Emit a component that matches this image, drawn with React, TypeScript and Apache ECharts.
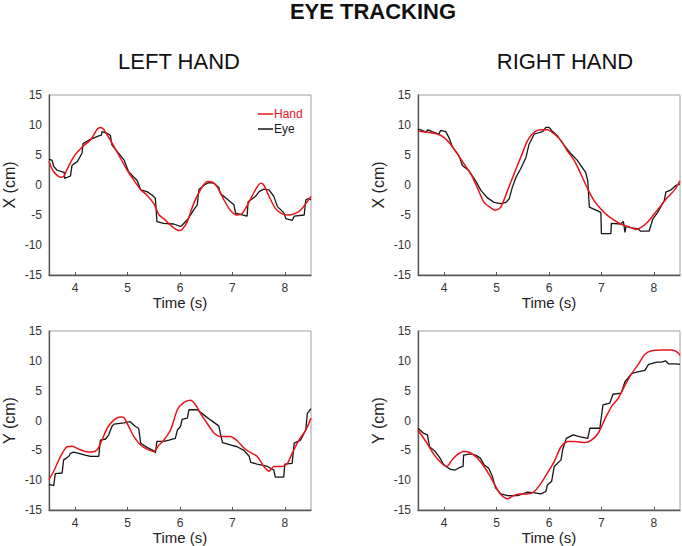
import React, { useEffect, useRef } from "react";
import * as echarts from "echarts";

// ---------- DATA ----------
const X_TICKS = [4, 5, 6, 7, 8];
const X_MIN = 3.5;
const X_MAX = 8.5;
const Y_MIN = -15;
const Y_MAX = 15;
const Y_STEP = 5;

// Left hand, X (cm)
const lxHandT = [3.5, 3.59, 3.72, 3.78, 3.84, 3.97, 4.13, 4.29, 4.42, 4.48, 4.54, 4.67, 4.83, 4.99, 5.12, 5.25, 5.37, 5.5, 5.6, 5.69, 5.82, 5.98, 6.04, 6.14, 6.26, 6.39, 6.52, 6.61, 6.71, 6.84, 6.96, 7.09, 7.19, 7.32, 7.44, 7.54, 7.6, 7.7, 7.82, 7.95, 8.08, 8.21, 8.33, 8.5];
const lxHandV = [3.9, 2.2, 1.3, 1.4, 2.5, 4.7, 6.3, 7.5, 9.3, 9.6, 9.3, 7.5, 5.0, 2.5, 0.8, -0.8, -1.7, -3.1, -5.0, -5.6, -6.7, -7.6, -7.4, -6.1, -3.1, -0.8, 0.6, 0.5, -0.3, -2.5, -4.2, -5.0, -4.7, -2.8, -0.8, 0.3, 0.0, -1.9, -3.9, -4.8, -5.0, -4.7, -3.9, -1.9];
const lxEyeT = [3.5, 3.56, 3.59, 3.65, 3.75, 3.79, 3.8, 3.91, 3.94, 4.04, 4.13, 4.15, 4.29, 4.45, 4.5, 4.51, 4.61, 4.67, 4.7, 4.8, 4.93, 5.02, 5.12, 5.18, 5.25, 5.37, 5.47, 5.53, 5.56, 5.69, 5.88, 6.01, 6.04, 6.14, 6.26, 6.33, 6.36, 6.46, 6.55, 6.65, 6.74, 6.77, 6.96, 7.03, 7.06, 7.28, 7.3, 7.44, 7.51, 7.6, 7.7, 7.79, 7.86, 7.98, 8.02, 8.14, 8.18, 8.37, 8.4, 8.46, 8.5];
const lxEyeV = [4.3, 4.1, 3.1, 2.5, 2.2, 2.1, 1.1, 1.5, 3.3, 3.9, 5.3, 6.9, 7.6, 8.2, 8.3, 8.9, 8.6, 8.3, 6.7, 5.6, 4.2, 2.2, 1.3, 0.8, -0.8, -1.1, -1.7, -2.2, -6.1, -6.4, -6.5, -6.9, -6.7, -5.8, -4.2, -3.3, -0.8, 0.0, 0.4, 0.3, -0.4, -1.4, -2.8, -3.3, -4.7, -5.2, -2.8, -1.9, -1.1, -0.7, -0.8, -1.9, -3.6, -4.6, -5.6, -5.9, -5.2, -5.0, -2.5, -2.2, -2.5];

// Right hand, X (cm)
const rxHandT = [3.5, 3.68, 3.87, 4.0, 4.12, 4.25, 4.38, 4.51, 4.63, 4.76, 4.89, 4.98, 5.08, 5.21, 5.33, 5.46, 5.59, 5.72, 5.84, 5.97, 6.1, 6.23, 6.35, 6.48, 6.61, 6.74, 6.86, 6.99, 7.12, 7.25, 7.37, 7.5, 7.66, 7.75, 7.88, 8.01, 8.14, 8.26, 8.39, 8.5];
const rxHandV = [9.0, 8.8, 8.5, 7.9, 6.8, 5.2, 3.5, 1.8, -0.4, -2.9, -3.8, -4.2, -3.7, -0.9, 1.8, 4.6, 7.4, 8.8, 9.2, 9.2, 8.5, 7.4, 5.7, 4.1, 1.8, -0.7, -2.6, -4.0, -5.1, -5.9, -6.5, -6.9, -7.4, -7.1, -6.2, -4.8, -3.4, -2.1, -0.9, 0.7];
const rxEyeT = [3.5, 3.58, 3.65, 3.69, 3.77, 3.9, 3.93, 4.03, 4.09, 4.16, 4.28, 4.35, 4.47, 4.6, 4.7, 4.82, 4.95, 5.08, 5.18, 5.24, 5.3, 5.37, 5.46, 5.56, 5.62, 5.72, 5.88, 5.94, 6.0, 6.07, 6.16, 6.29, 6.42, 6.54, 6.7, 6.74, 6.77, 6.93, 6.99, 7.0, 7.18, 7.19, 7.37, 7.42, 7.45, 7.47, 7.56, 7.69, 7.75, 7.91, 7.98, 8.07, 8.2, 8.23, 8.33, 8.42, 8.5];
const rxEyeV = [9.3, 9.1, 8.8, 9.2, 8.9, 8.5, 9.1, 8.9, 7.9, 6.3, 4.9, 3.2, 2.4, 0.7, -0.9, -2.1, -2.9, -3.1, -2.9, -2.3, -0.4, 1.3, 2.7, 4.6, 6.8, 8.5, 8.9, 9.6, 9.6, 8.9, 8.2, 6.6, 5.2, 4.1, 2.1, 0.7, -3.7, -4.3, -4.6, -8.1, -8.1, -6.4, -6.5, -6.1, -7.9, -6.9, -7.1, -7.3, -7.7, -7.7, -5.7, -4.6, -2.6, -1.2, -0.8, -0.1, 0.2];

// Left hand, Y (cm)
const lyHandT = [3.5, 3.59, 3.72, 3.84, 3.94, 4.07, 4.19, 4.32, 4.42, 4.51, 4.61, 4.74, 4.86, 4.93, 5.02, 5.12, 5.25, 5.37, 5.5, 5.6, 5.69, 5.82, 5.95, 6.07, 6.2, 6.3, 6.39, 6.52, 6.65, 6.77, 6.96, 7.09, 7.22, 7.35, 7.47, 7.6, 7.7, 7.79, 7.95, 8.05, 8.14, 8.27, 8.4, 8.5];
const lyHandV = [-9.9, -8.5, -6.0, -4.4, -4.3, -4.8, -5.2, -5.3, -4.9, -3.3, -1.3, 0.1, 0.6, 0.5, -1.0, -2.7, -4.1, -4.8, -5.2, -4.1, -3.3, -1.6, 1.8, 3.0, 3.4, 2.6, 1.2, -0.5, -2.1, -2.7, -2.7, -3.4, -4.6, -5.4, -6.0, -7.7, -8.5, -7.7, -7.7, -7.2, -5.5, -3.3, -1.6, 0.4];
const lyEyeT = [3.5, 3.59, 3.62, 3.75, 3.78, 3.88, 3.91, 3.97, 4.07, 4.19, 4.29, 4.45, 4.48, 4.58, 4.64, 4.7, 4.74, 4.93, 5.05, 5.15, 5.21, 5.25, 5.37, 5.5, 5.53, 5.56, 5.69, 5.79, 5.91, 5.95, 6.01, 6.04, 6.14, 6.17, 6.33, 6.46, 6.58, 6.74, 6.77, 6.81, 6.96, 7.09, 7.22, 7.32, 7.35, 7.47, 7.67, 7.79, 7.82, 7.98, 8.0, 8.14, 8.18, 8.3, 8.4, 8.43, 8.5];
const lyEyeV = [-10.7, -10.9, -8.9, -8.8, -6.6, -6.0, -5.5, -5.3, -5.5, -5.8, -6.0, -6.0, -3.3, -3.1, -2.4, -1.0, -0.6, -0.4, -0.2, -1.0, -1.3, -3.8, -4.5, -5.1, -5.4, -3.5, -3.5, -3.3, -3.0, -1.6, -1.0, 0.2, 0.4, 1.8, 1.8, 0.9, 0.1, -0.9, -2.1, -3.7, -4.1, -4.4, -5.0, -6.0, -7.0, -7.3, -7.7, -8.3, -9.5, -9.5, -7.3, -7.2, -3.8, -3.3, -1.6, 1.2, 2.0];

// Right hand, Y (cm)
const ryHandT = [3.5, 3.67, 3.79, 3.92, 4.05, 4.15, 4.24, 4.37, 4.5, 4.63, 4.76, 4.88, 4.98, 5.08, 5.21, 5.3, 5.43, 5.59, 5.72, 5.85, 5.97, 6.1, 6.23, 6.36, 6.49, 6.68, 6.81, 6.94, 7.06, 7.19, 7.32, 7.45, 7.58, 7.71, 7.83, 7.96, 8.15, 8.35, 8.47, 8.5];
const ryHandV = [-1.6, -3.8, -5.5, -6.9, -7.7, -6.6, -5.8, -5.2, -5.4, -6.3, -7.7, -9.4, -11.0, -12.4, -13.1, -12.7, -12.3, -12.3, -11.9, -10.5, -8.8, -6.9, -4.4, -3.5, -3.5, -3.7, -3.3, -2.1, 0.1, 2.3, 3.7, 5.9, 7.9, 9.5, 11.1, 11.7, 11.8, 11.8, 11.3, 10.9];
const ryEyeT = [3.5, 3.6, 3.68, 3.72, 3.83, 3.92, 3.99, 4.12, 4.21, 4.31, 4.36, 4.37, 4.5, 4.6, 4.69, 4.76, 4.85, 4.92, 4.98, 5.08, 5.21, 5.4, 5.59, 5.69, 5.85, 5.94, 5.97, 6.05, 6.1, 6.23, 6.26, 6.33, 6.46, 6.58, 6.74, 6.78, 6.97, 7.03, 7.16, 7.22, 7.38, 7.45, 7.58, 7.71, 7.83, 7.9, 8.06, 8.15, 8.22, 8.28, 8.41, 8.5];
const ryEyeV = [-1.3, -2.1, -2.4, -4.4, -5.2, -6.3, -7.4, -8.2, -8.3, -7.8, -7.7, -5.8, -5.6, -5.8, -6.3, -7.4, -8.0, -9.4, -11.3, -12.3, -12.6, -12.6, -12.0, -12.1, -12.3, -11.9, -10.8, -10.2, -7.7, -6.6, -4.9, -3.0, -2.4, -2.7, -3.0, -1.3, -1.3, 2.6, 2.9, 4.4, 4.6, 6.5, 7.9, 8.2, 8.4, 9.4, 9.8, 9.8, 10.0, 9.5, 9.5, 9.4];

const PANEL_TITLES = ["LEFT HAND", "RIGHT HAND"];
const MAIN_TITLE = "EYE TRACKING";
const Y_NAMES = ["X (cm)", "X (cm)", "Y (cm)", "Y (cm)"];
const X_NAME = "Time (s)";
const SERIES_NAMES = ["Hand", "Eye"];

// ---------- LAYOUT / STYLE ----------
const FONT = "'Liberation Sans', Arial, sans-serif";
const RED = "#e8141b";
const BLACK = "#151515";
const GRIDS = [
  { left: 49, top: 95, width: 262, height: 180 },
  { left: 418, top: 95, width: 262, height: 180 },
  { left: 49, top: 331, width: 262, height: 179 },
  { left: 418, top: 331, width: 262, height: 179 },
];

const zip = (t: number[], v: number[]) => t.map((x, i) => [x, v[i]]);

const PANELS = [
  { hand: zip(lxHandT, lxHandV), eye: zip(lxEyeT, lxEyeV) },
  { hand: zip(rxHandT, rxHandV), eye: zip(rxEyeT, rxEyeV) },
  { hand: zip(lyHandT, lyHandV), eye: zip(lyEyeT, lyEyeV) },
  { hand: zip(ryHandT, ryHandV), eye: zip(ryEyeT, ryEyeV) },
];

export default function App() {
  const ref = useRef<HTMLDivElement>(null);
  useEffect(() => {
    if (!ref.current) return;
    const chart = echarts.init(ref.current, undefined, { renderer: "svg" });

    const grid = GRIDS.map((g) => ({
      ...g,
      show: true,
      borderColor: "#a0a0a0",
      borderWidth: 1,
      backgroundColor: "transparent",
    }));

    const xAxis = GRIDS.map((_, i) => ({
      type: "value",
      gridIndex: i,
      min: X_MIN,
      max: X_MAX,
      name: X_NAME,
      nameLocation: "middle",
      nameGap: 20,
      nameTextStyle: { fontFamily: FONT, fontSize: 15, color: "#222" },
      axisLine: { show: true, onZero: false, lineStyle: { color: "#555", width: 1.3 } },
      axisTick: {
        show: true,
        inside: true,
        length: 3,
        customValues: X_TICKS,
        lineStyle: { color: "#555", width: 1 },
      },
      axisLabel: {
        customValues: X_TICKS,
        fontFamily: FONT,
        fontSize: 12,
        color: "#333",
        margin: 7,
      },
      splitLine: { show: false },
    }));

    const yAxis = GRIDS.map((_, i) => ({
      type: "value",
      gridIndex: i,
      min: Y_MIN,
      max: Y_MAX,
      interval: Y_STEP,
      name: Y_NAMES[i],
      nameLocation: "middle",
      nameGap: 32,
      nameTextStyle: { fontFamily: FONT, fontSize: 16, color: "#222" },
      axisLine: { show: true, lineStyle: { color: "#555", width: 1.3 } },
      axisTick: { show: false },
      axisLabel: {
        fontFamily: FONT,
        fontSize: 12,
        color: "#333",
        margin: 7,
        showMinLabel: true,
        showMaxLabel: true,
      },
      splitLine: { show: false },
    }));

    const series: any[] = [];
    PANELS.forEach((p, i) => {
      series.push({
        type: "line",
        name: SERIES_NAMES[1],
        xAxisIndex: i,
        yAxisIndex: i,
        data: p.eye,
        symbol: "none",
        showSymbol: false,
        lineStyle: { color: BLACK, width: 1.3 },
        itemStyle: { color: BLACK },
        z: 2,
      });
      series.push({
        type: "line",
        name: SERIES_NAMES[0],
        xAxisIndex: i,
        yAxisIndex: i,
        data: p.hand,
        symbol: "none",
        showSymbol: false,
        smooth: 0.25,
        lineStyle: { color: RED, width: 1.5 },
        itemStyle: { color: RED },
        z: 3,
      });
    });

    const option = {
      animation: false,
      backgroundColor: "#fff",
      textStyle: { fontFamily: FONT },
      grid,
      xAxis,
      yAxis,
      legend: {
        orient: "vertical",
        left: 253,
        top: 103,
        icon: "rect",
        itemWidth: 15,
        itemHeight: 1.5,
        itemGap: 3,
        selectedMode: false,
        data: [
          { name: SERIES_NAMES[0], textStyle: { color: RED } },
          { name: SERIES_NAMES[1], textStyle: { color: BLACK } },
        ],
        textStyle: { fontFamily: FONT, fontSize: 12, padding: [0, 0, 0, -4] },
      },
      graphic: [
        {
          type: "text",
          x: 373,
          y: 11,
          style: {
            text: MAIN_TITLE,
            font: `bold 22px ${FONT}`,
            fill: "#111",
            textAlign: "center",
            textVerticalAlign: "middle",
          },
        },
        {
          type: "text",
          x: 179,
          y: 61,
          style: {
            text: PANEL_TITLES[0],
            font: `22px ${FONT}`,
            fill: "#111",
            textAlign: "center",
            textVerticalAlign: "middle",
          },
        },
        {
          type: "text",
          x: 565,
          y: 61,
          style: {
            text: PANEL_TITLES[1],
            font: `22px ${FONT}`,
            fill: "#111",
            textAlign: "center",
            textVerticalAlign: "middle",
          },
        },
      ],
      series,
    };
    chart.setOption(option as any);
    return () => chart.dispose();
  }, []);

  return (
    <div
      ref={ref}
      style={{ position: "fixed", left: 0, top: 0, width: 682, height: 546 }}
    />
  );
}
